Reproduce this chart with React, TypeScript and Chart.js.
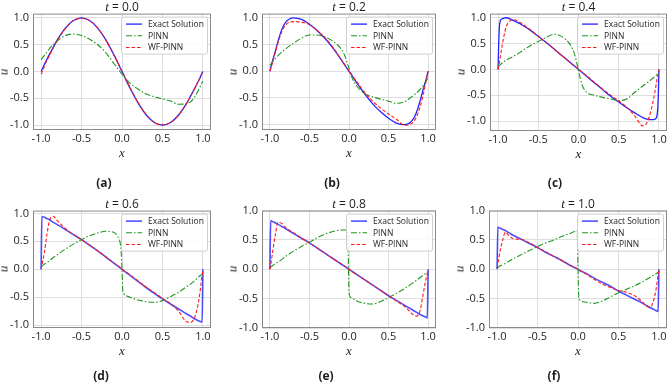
import React, { useEffect, useRef } from "react";
import { Chart, registerables } from "chart.js";

Chart.register(...registerables);

// Sample positions along x (denser near the walls and the centre, where the fronts are steep)
const xGrid = [
  -1, -0.99, -0.98, -0.96, -0.93, -0.9, -0.85, -0.8, -0.7, -0.6, -0.5, -0.4, -0.3, -0.2, -0.1,
  -0.05, -0.02, -0.01, 0, 0.01, 0.02, 0.05, 0.1, 0.2, 0.3, 0.4, 0.5, 0.6, 0.7, 0.8, 0.85, 0.9,
  0.93, 0.96, 0.98, 0.99, 1,
];

const timeLabels = ["0.0", "0.2", "0.4", "0.6", "0.8", "1.0"];
const panelTags = ["(a)", "(b)", "(c)", "(d)", "(e)", "(f)"];
const seriesNames = ["Exact Solution", "PINN", "WF-PINN"];
const xTicks = [-1, -0.5, 0, 0.5, 1];
const yTicks = [-1, -0.5, 0, 0.5, 1];
const yLow = [-1.09, -1.1, -1.19, -1.05, -1, -1];
const yHigh = [1.08, 1.08, 1.08, 1.05, 1, 1];

// t = 0.0
const exactA = [0, 0.03, 0.06, 0.13, 0.22, 0.31, 0.45, 0.59, 0.81, 0.95, 1.0, 0.95, 0.81, 0.59, 0.31, 0.16, 0.06, 0.03, 0, -0.03, -0.06, -0.16, -0.31, -0.59, -0.81, -0.95, -1.0, -0.95, -0.81, -0.59, -0.45, -0.31, -0.22, -0.13, -0.06, -0.03, 0];
const pinnA = [0.22, 0.24, 0.26, 0.3, 0.36, 0.42, 0.5, 0.57, 0.67, 0.7, 0.67, 0.6, 0.5, 0.35, 0.15, 0.05, -0.01, -0.03, -0.05, -0.07, -0.09, -0.14, -0.22, -0.33, -0.42, -0.47, -0.51, -0.55, -0.61, -0.6, -0.56, -0.47, -0.39, -0.3, -0.24, -0.21, -0.18];
const wfA = [-0.05, -0.02, 0.02, 0.1, 0.2, 0.29, 0.44, 0.58, 0.8, 0.95, 0.99, 0.95, 0.81, 0.59, 0.31, 0.16, 0.07, 0.04, 0.01, -0.02, -0.05, -0.15, -0.3, -0.58, -0.8, -0.95, -0.99, -0.95, -0.81, -0.59, -0.45, -0.31, -0.22, -0.13, -0.06, -0.03, 0];

// t = 0.2
const exactB = [0, 0.06, 0.12, 0.23, 0.38, 0.55, 0.78, 0.92, 1.0, 0.97, 0.88, 0.76, 0.61, 0.43, 0.22, 0.11, 0.04, 0.02, 0, -0.02, -0.04, -0.11, -0.22, -0.43, -0.61, -0.76, -0.88, -0.97, -1.0, -0.92, -0.78, -0.55, -0.38, -0.23, -0.12, -0.06, 0];
const pinnB = [0.11, 0.13, 0.15, 0.19, 0.24, 0.29, 0.36, 0.42, 0.53, 0.62, 0.68, 0.68, 0.64, 0.56, 0.42, 0.28, 0.14, 0.1, 0.05, 0.0, -0.05, -0.16, -0.28, -0.42, -0.48, -0.52, -0.56, -0.6, -0.57, -0.47, -0.41, -0.34, -0.28, -0.22, -0.17, -0.15, -0.13];
const wfB = [0, 0.05, 0.1, 0.21, 0.36, 0.52, 0.74, 0.87, 0.93, 0.92, 0.87, 0.76, 0.62, 0.44, 0.22, 0.12, 0.05, 0.03, 0.01, -0.01, -0.03, -0.1, -0.2, -0.4, -0.56, -0.69, -0.8, -0.9, -1.01, -0.97, -0.86, -0.66, -0.49, -0.29, -0.14, -0.07, 0];

// t = 0.4
const exactC = [0, 0.6, 0.88, 0.97, 0.99, 1.0, 0.98, 0.94, 0.86, 0.76, 0.64, 0.52, 0.39, 0.26, 0.13, 0.065, 0.026, 0.013, 0, -0.013, -0.026, -0.065, -0.13, -0.26, -0.39, -0.52, -0.63, -0.74, -0.84, -0.93, -0.96, -0.97, -0.97, -0.95, -0.85, -0.6, 0];
const pinnC = [0.05, 0.07, 0.08, 0.11, 0.15, 0.18, 0.22, 0.26, 0.36, 0.46, 0.54, 0.62, 0.68, 0.63, 0.47, 0.3, 0.12, 0.05, -0.03, -0.1, -0.16, -0.32, -0.44, -0.5, -0.54, -0.57, -0.6, -0.57, -0.44, -0.32, -0.26, -0.2, -0.16, -0.12, -0.09, -0.08, -0.07];
const wfC = [0, 0.08, 0.17, 0.36, 0.62, 0.82, 0.94, 0.96, 0.88, 0.77, 0.64, 0.52, 0.39, 0.26, 0.13, 0.07, 0.03, 0.02, 0, -0.01, -0.02, -0.06, -0.12, -0.25, -0.38, -0.5, -0.61, -0.73, -0.9, -1.09, -1.03, -0.8, -0.6, -0.34, -0.16, -0.08, 0];

// t = 0.6
const exactD = [0, 0.94, 0.94, 0.93, 0.91, 0.89, 0.84, 0.8, 0.71, 0.62, 0.53, 0.43, 0.33, 0.22, 0.11, 0.055, 0.022, 0.011, 0, -0.011, -0.022, -0.055, -0.11, -0.22, -0.33, -0.43, -0.53, -0.62, -0.71, -0.8, -0.84, -0.89, -0.91, -0.93, -0.94, -0.94, 0];
const pinnD = [0.05, 0.06, 0.07, 0.09, 0.12, 0.15, 0.21, 0.26, 0.36, 0.45, 0.53, 0.6, 0.65, 0.68, 0.66, 0.58, 0.45, 0.3, 0, -0.38, -0.43, -0.47, -0.5, -0.55, -0.58, -0.59, -0.56, -0.49, -0.41, -0.31, -0.26, -0.2, -0.16, -0.12, -0.1, -0.09, -0.08];
const wfD = [0, 0.07, 0.14, 0.3, 0.6, 0.85, 0.95, 0.87, 0.73, 0.62, 0.53, 0.43, 0.33, 0.22, 0.11, 0.06, 0.03, 0.015, 0, -0.01, -0.02, -0.05, -0.1, -0.21, -0.32, -0.42, -0.52, -0.62, -0.75, -0.94, -0.95, -0.85, -0.7, -0.45, -0.22, -0.1, -0.03];

// t = 0.8
const exactE = [0, 0.83, 0.82, 0.81, 0.79, 0.77, 0.73, 0.69, 0.61, 0.53, 0.45, 0.36, 0.27, 0.18, 0.09, 0.045, 0.018, 0.009, 0, -0.009, -0.018, -0.045, -0.09, -0.18, -0.27, -0.36, -0.45, -0.53, -0.61, -0.69, -0.73, -0.77, -0.79, -0.81, -0.82, -0.83, 0];
const pinnE = [0.03, 0.04, 0.05, 0.07, 0.1, 0.12, 0.17, 0.22, 0.31, 0.39, 0.46, 0.54, 0.6, 0.645, 0.67, 0.67, 0.65, 0.3, -0.4, -0.46, -0.48, -0.5, -0.54, -0.58, -0.59, -0.55, -0.48, -0.41, -0.33, -0.24, -0.19, -0.14, -0.11, -0.08, -0.06, -0.05, -0.04];
const wfE = [0, 0.08, 0.16, 0.35, 0.6, 0.8, 0.78, 0.71, 0.62, 0.53, 0.45, 0.36, 0.27, 0.18, 0.09, 0.05, 0.02, 0.01, 0, -0.01, -0.02, -0.05, -0.09, -0.18, -0.27, -0.36, -0.45, -0.54, -0.63, -0.76, -0.8, -0.7, -0.48, -0.26, -0.13, -0.07, -0.02];

// t = 1.0
const exactF = [0, 0.72, 0.71, 0.7, 0.68, 0.66, 0.62, 0.58, 0.51, 0.44, 0.37, 0.29, 0.22, 0.15, 0.07, 0.036, 0.015, 0.007, 0, -0.007, -0.015, -0.036, -0.07, -0.15, -0.22, -0.29, -0.37, -0.44, -0.51, -0.58, -0.62, -0.66, -0.68, -0.7, -0.71, -0.72, 0];
const pinnF = [0.02, 0.03, 0.04, 0.06, 0.08, 0.1, 0.14, 0.18, 0.25, 0.32, 0.39, 0.45, 0.5, 0.56, 0.61, 0.64, 0.65, 0.66, 0.0, -0.48, -0.52, -0.55, -0.56, -0.58, -0.54, -0.47, -0.4, -0.34, -0.28, -0.21, -0.17, -0.13, -0.1, -0.08, -0.06, -0.05, -0.04];
const wfF = [0.02, 0.1, 0.18, 0.33, 0.5, 0.63, 0.57, 0.52, 0.51, 0.45, 0.37, 0.3, 0.22, 0.15, 0.07, 0.04, 0.02, 0.01, 0, -0.01, -0.02, -0.04, -0.08, -0.17, -0.25, -0.31, -0.36, -0.39, -0.45, -0.56, -0.63, -0.64, -0.55, -0.38, -0.2, -0.1, -0.02];

const exactSeries = [exactA, exactB, exactC, exactD, exactE, exactF];
const pinnSeries = [pinnA, pinnB, pinnC, pinnD, pinnE, pinnF];
const wfSeries = [wfA, wfB, wfC, wfD, wfE, wfF];

const SANS = "'Open Sans', 'Noto Sans', sans-serif";
const SERIF = "'Liberation Serif', 'DejaVu Serif', serif";
const GRID = "#dedede";
const FRAME = "#8a8a8a";
const TEXT = "#1e1e1e";

// Plot-area rectangles on the page, plus the centre of each panel tag
const frames = [
  { L: 33, T: 13, R: 211, B: 130, tagX: 104, tagY: 183 },
  { L: 262, T: 13, R: 436, B: 130, tagX: 332, tagY: 183 },
  { L: 490, T: 13, R: 667, B: 131, tagX: 555, tagY: 183 },
  { L: 33, T: 210, R: 211, B: 328, tagX: 101, tagY: 376 },
  { L: 262, T: 210, R: 436, B: 328, tagX: 326, tagY: 376 },
  { L: 489, T: 210, R: 667, B: 328, tagX: 554, tagY: 376 },
];

const AXIS_W = 40;
const AXIS_H = 20;
const PAD_T = 10;
const PAD_R = 10;

// Draws the box around the axes and the legend in the upper-right corner
const framePlugin = {
  id: "frameAndLegend",
  afterDatasetsDraw(chart: any) {
    const { ctx, chartArea } = chart;
    const { left, top, right, bottom } = chartArea;
    ctx.save();
    ctx.strokeStyle = FRAME;
    ctx.lineWidth = 1;
    ctx.strokeRect(left + 0.5, top + 0.5, right - left - 1, bottom - top - 1);

    const w = 86;
    const h = 37;
    const x0 = right - w - 4;
    const y0 = top + 3;
    ctx.beginPath();
    if (ctx.roundRect) ctx.roundRect(x0 + 0.5, y0 + 0.5, w, h, 2);
    else ctx.rect(x0 + 0.5, y0 + 0.5, w, h);
    ctx.fillStyle = "rgba(255,255,255,0.85)";
    ctx.fill();
    ctx.strokeStyle = "#cfcfcf";
    ctx.stroke();

    chart.data.datasets.forEach((ds: any, i: number) => {
      const yy = y0 + 7.5 + i * 11.7;
      ctx.beginPath();
      ctx.setLineDash(ds.borderDash || []);
      ctx.strokeStyle = ds.borderColor;
      ctx.lineWidth = ds.borderWidth;
      ctx.moveTo(x0 + 5, yy);
      ctx.lineTo(x0 + 21, yy);
      ctx.stroke();
      ctx.setLineDash([]);
      ctx.fillStyle = TEXT;
      ctx.font = `8.5px ${SANS}`;
      ctx.textBaseline = "middle";
      ctx.textAlign = "left";
      ctx.fillText(ds.label, x0 + 27, yy + 0.5);
    });
    ctx.restore();
  },
};

function Panel({ i }: { i: number }) {
  const ref = useRef<HTMLCanvasElement>(null);
  const f = frames[i];
  const cw = f.R - f.L + AXIS_W + PAD_R;
  const ch = f.B - f.T + PAD_T + AXIS_H;

  useEffect(() => {
    const toPts = (ys: number[]) => xGrid.map((x, k) => ({ x, y: ys[k] }));
    const late = i >= 3;
    const chart = new Chart(ref.current as HTMLCanvasElement, {
      type: "line",
      data: {
        datasets: [
          {
            label: seriesNames[0],
            data: toPts(exactSeries[i]),
            borderColor: late ? "rgba(35,35,255,0.8)" : "#2323ff",
            borderWidth: late ? 1.6 : 1.3,
            pointRadius: 0,
            cubicInterpolationMode: "monotone",
            order: 2,
          },
          {
            label: seriesNames[1],
            data: toPts(pinnSeries[i]),
            borderColor: "#1f961f",
            borderWidth: 1.1,
            borderDash: [6, 2, 1.5, 2],
            pointRadius: 0,
            cubicInterpolationMode: "monotone",
            order: 1,
          },
          {
            label: seriesNames[2],
            data: toPts(wfSeries[i]),
            borderColor: "#ff1a1a",
            borderWidth: 1.1,
            borderDash: [3.5, 2],
            pointRadius: 0,
            cubicInterpolationMode: "monotone",
            order: 0,
          },
        ],
      },
      options: {
        animation: false,
        responsive: false,
        events: [],
        layout: { padding: { left: 0, top: PAD_T, right: PAD_R, bottom: 0 } },
        plugins: { legend: { display: false }, tooltip: { enabled: false } },
        scales: {
          x: {
            type: "linear",
            min: -1.1,
            max: 1.1,
            afterBuildTicks: (s: any) => {
              s.ticks = xTicks.map((v) => ({ value: v }));
            },
            afterFit: (s: any) => {
              s.height = AXIS_H;
            },
            ticks: {
              padding: 2,
              autoSkip: false,
              maxRotation: 0,
              color: TEXT,
              font: { family: SANS, size: 11 },
              callback: (v: any) => Number(v).toFixed(1),
            },
            grid: { color: GRID, drawTicks: false },
            border: { display: false },
          },
          y: {
            type: "linear",
            min: yLow[i],
            max: yHigh[i],
            afterBuildTicks: (s: any) => {
              s.ticks = yTicks.map((v) => ({ value: v }));
            },
            afterFit: (s: any) => {
              s.width = AXIS_W;
            },
            ticks: {
              padding: 4,
              autoSkip: false,
              color: TEXT,
              font: { family: SANS, size: 11 },
              callback: (v: any) => Number(v).toFixed(1),
            },
            grid: { color: GRID, drawTicks: false },
            border: { display: false },
          },
        },
      } as any,
      plugins: [framePlugin],
    } as any);
    return () => chart.destroy();
  }, [i]);

  const cx = (f.L + f.R) / 2;
  const cy = (f.T + f.B) / 2;
  const centered: React.CSSProperties = {
    position: "absolute",
    transform: "translate(-50%, -50%)",
    whiteSpace: "nowrap",
    lineHeight: 1,
    color: TEXT,
  };

  return (
    <>
      <canvas
        ref={ref}
        width={cw}
        height={ch}
        style={{ position: "absolute", left: f.L - AXIS_W, top: f.T - PAD_T, width: cw, height: ch }}
      />
      <div style={{ ...centered, left: cx, top: f.T - 7, fontFamily: SANS, fontSize: 12 }}>
        <span style={{ fontFamily: SERIF, fontStyle: "italic", fontSize: 13 }}>t</span> = {timeLabels[i]}
      </div>
      <div style={{ ...centered, left: cx, top: f.B + 22, fontFamily: SERIF, fontStyle: "italic", fontSize: 13 }}>x</div>
      <div
        style={{
          ...centered,
          left: f.L - 30,
          top: cy,
          fontFamily: SERIF,
          fontStyle: "italic",
          fontSize: 13,
          transform: "translate(-50%, -50%) rotate(-90deg)",
        }}
      >
        u
      </div>
      <div style={{ ...centered, left: f.tagX, top: f.tagY, fontFamily: SANS, fontWeight: 700, fontSize: 12 }}>
        {panelTags[i]}
      </div>
    </>
  );
}

export default function App() {
  return (
    <div
      style={{
        position: "absolute",
        left: 0,
        top: 0,
        width: 669,
        height: 382,
        overflow: "hidden",
        background: "#ffffff",
      }}
    >
      {frames.map((_, i) => (
        <Panel key={i} i={i} />
      ))}
    </div>
  );
}
